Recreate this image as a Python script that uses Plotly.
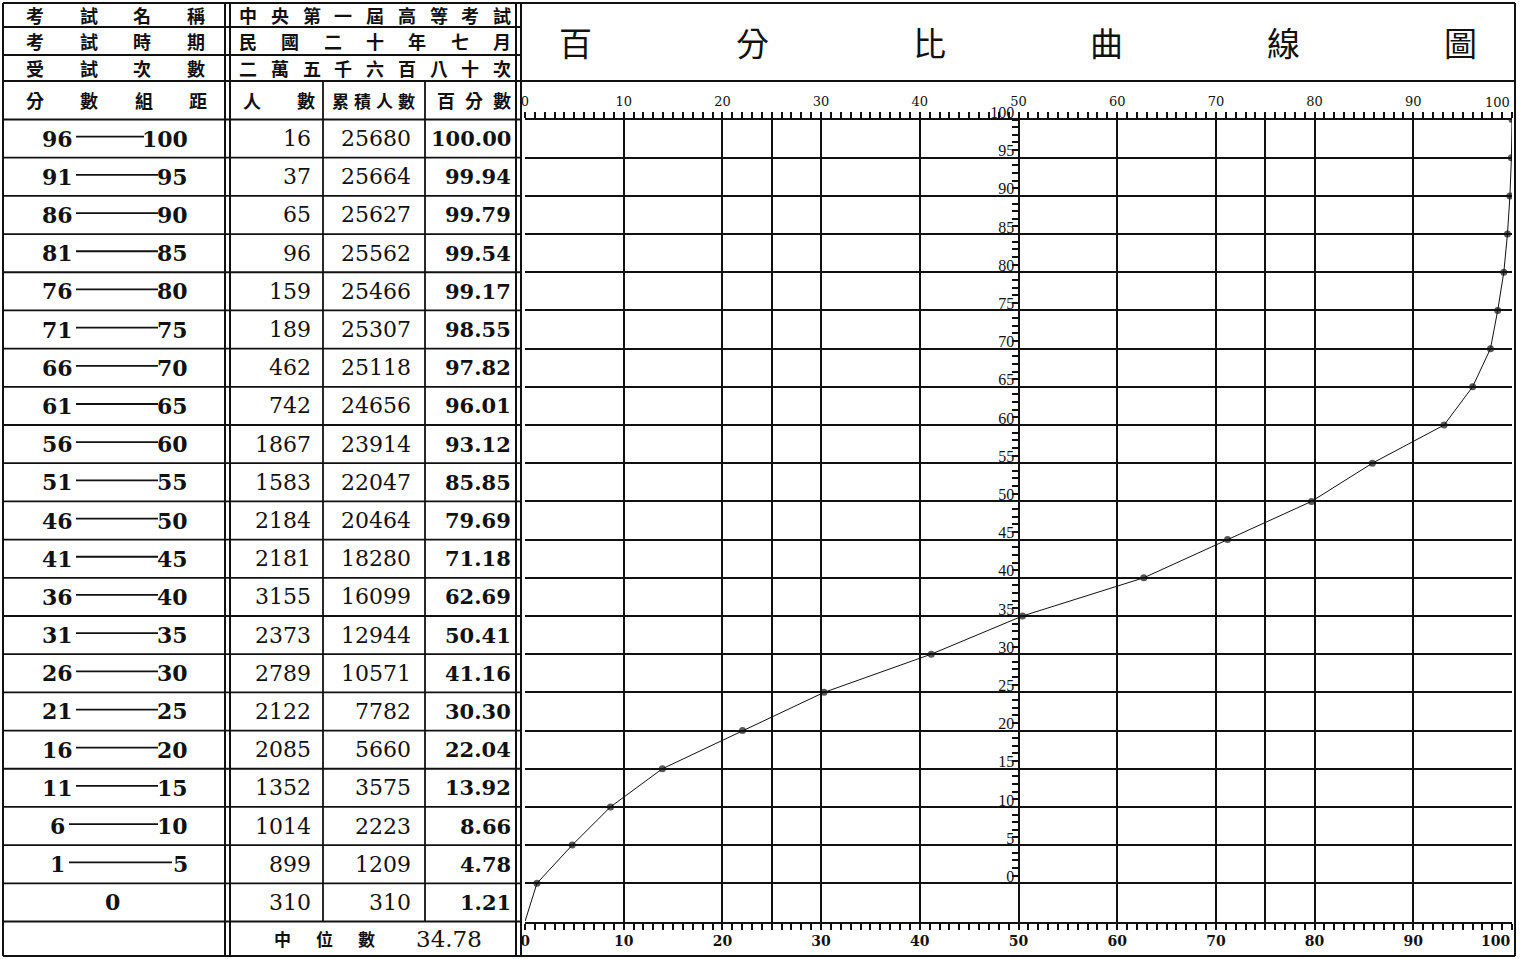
import plotly.graph_objects as go

# ------------------------------------------------------------------ data
TITLE = "百分比曲線圖"
INFO_LABELS = ["考試名稱", "考試時期", "受試次數"]
INFO_VALUES = ["中央第一屆高等考試", "民國二十年七月", "二萬五千六百八十次"]
COL_HEADERS = ["分數組距", "人數", "累積人數", "百分數"]

CLASS_LOW = [96, 91, 86, 81, 76, 71, 66, 61, 56, 51, 46, 41, 36, 31, 26, 21, 16, 11, 6, 1, 0]
CLASS_HIGH = [100, 95, 90, 85, 80, 75, 70, 65, 60, 55, 50, 45, 40, 35, 30, 25, 20, 15, 10, 5, 0]
FREQ = [16, 37, 65, 96, 159, 189, 462, 742, 1867, 1583, 2184, 2181, 3155, 2373, 2789,
        2122, 2085, 1352, 1014, 899, 310]
CUM = [25680, 25664, 25627, 25562, 25466, 25307, 25118, 24656, 23914, 22047, 20464,
       18280, 16099, 12944, 10571, 7782, 5660, 3575, 2223, 1209, 310]
PCT = [100.00, 99.94, 99.79, 99.54, 99.17, 98.55, 97.82, 96.01, 93.12, 85.85, 79.69,
       71.18, 62.69, 50.41, 41.16, 30.30, 22.04, 13.92, 8.66, 4.78, 1.21]
CURVE_ORIGIN_PCT = [0.0]
CURVE_ORIGIN_SCORE = [-5]

MEDIAN_LABEL = "中位數"
MEDIAN = 34.78

X_LABEL_TICKS = [0, 10, 20, 30, 40, 50, 60, 70, 80, 90, 100]
X_EXTRA_GRID = [25, 75]
Y_TICKS = list(range(0, 101, 5))

# ------------------------------------------------------------------ layout helpers
W, H = 1520, 959


def px(x):
    return x / W


def py(y):
    return 1 - y / H


CX0, CX1 = 525, 1512          # pixel positions of 0 % and 100 %
CY_TOP, CY_BOT = 119.5, 921.5  # pixel positions of score 100 and score -5
YMIN, YMAX = -5, 100
XDOM = [px(CX0), px(CX1)]
YDOM = [py(CY_BOT), py(CY_TOP)]


def sy(score):
    return YDOM[0] + (score - YMIN) / (YMAX - YMIN) * (YDOM[1] - YDOM[0])


CJK = "Noto Sans CJK TC"
SERIF = "DejaVu Serif"
BLACK = "#111111"

shapes = []
annotations = []


def hline(y0, xa, xb, w=1.8):
    shapes.append(dict(type="line", xref="paper", yref="paper", x0=px(xa), x1=px(xb),
                       y0=y0, y1=y0, line=dict(color=BLACK, width=w)))


def vline(x, ya, yb, w=1.8):
    shapes.append(dict(type="line", xref="paper", yref="paper", x0=px(x), x1=px(x),
                       y0=ya, y1=yb, line=dict(color=BLACK, width=w)))


def text(x, y, s, size, font=SERIF, anchor="center", bold=False, xref="paper"):
    annotations.append(dict(xref=xref, yref="paper", x=x, y=y, text=(f"<b>{s}</b>" if bold else s),
                            showarrow=False, xanchor=anchor, yanchor="middle",
                            font=dict(family=font, size=size, color=BLACK)))


def spread(s, xa, xb, y, size, bold=True):
    n = len(s)
    for i, ch in enumerate(s):
        x = xa if n == 1 else xa + i * (xb - xa) / (n - 1)
        text(px(x), y, ch, size, CJK, "center", bold)


# ------------------------------------------------------------------ table frame
T_L, C1A, C1B, C2R, C3R, TRA, TRB, R_EDGE = 3, 225, 230, 323, 425, 516, 521, 1515
HEAD_Y = [3, 27, 55, 81]
TBL_BOTTOM = 956

for yy in HEAD_Y:
    hline(py(yy), T_L, TRB if yy in (27, 55) else R_EDGE, 2)
hline(py(TBL_BOTTOM), T_L, R_EDGE, 2)
row_bounds = CLASS_HIGH + [CLASS_HIGH[-1] - 5]
for b in row_bounds:
    hline(sy(b), T_L, TRB, 1.8)

for x in (T_L, C1A, C1B, TRA, TRB):
    vline(x, py(HEAD_Y[0]), py(TBL_BOTTOM), 2)
vline(R_EDGE, py(HEAD_Y[0]), py(TBL_BOTTOM), 2)
for x in (C2R, C3R):
    vline(x, py(HEAD_Y[3]), sy(row_bounds[-1]), 1.8)

# ------------------------------------------------------------------ header text
head_centres = [(HEAD_Y[i] + HEAD_Y[i + 1]) / 2 for i in range(3)]
for lab, val, yc in zip(INFO_LABELS, INFO_VALUES, head_centres):
    spread(lab, 35, 196, py(yc), 18)
    spread(val, 248, 502, py(yc), 18)
yc4 = py((HEAD_Y[3] + CY_TOP) / 2)
spread(COL_HEADERS[0], 35, 198, yc4, 18)
spread(COL_HEADERS[1], 252, 306, yc4, 18)
spread(COL_HEADERS[2], 340, 406, yc4, 17)
spread(COL_HEADERS[3], 446, 502, yc4, 18)

spread(TITLE, 575, 1460, py((HEAD_Y[0] + HEAD_Y[3]) / 2), 33, bold=False)

# ------------------------------------------------------------------ table body
DIGIT_W = 14
for lo, hi, f, c, p in zip(CLASS_LOW, CLASS_HIGH, FREQ, CUM, PCT):
    yc = sy(hi - 2.5)
    if lo == hi:
        text(px(113), yc, str(lo), 22, bold=True)
    else:
        text(px(57), yc, str(lo), 22, bold=True)
        text(px(190), yc, str(hi), 22, anchor="right", bold=True)
        xa = 57 + len(str(lo)) * DIGIT_W / 2 + 5
        xb = 190 - len(str(hi)) * DIGIT_W - 4
        hline(yc + 0.002, xa, xb, 1.8)
    text(px(313), yc, str(f), 22, anchor="right")
    text(px(413), yc, str(c), 22, anchor="right")
    text(px(513), yc, f"{p:.2f}", 21, anchor="right", bold=True)

ymed = py((CY_BOT + TBL_BOTTOM) / 2)
spread(MEDIAN_LABEL, 282, 366, ymed, 17)
text(px(449), ymed, f"{MEDIAN:.2f}", 23)

# right-most x tick labels (kept inside the frame, as in the original)
x_last = X_LABEL_TICKS[-1]
text(x_last, py(CY_TOP - 17), str(x_last), 13, anchor="right", xref="x")
text(x_last, py(CY_BOT + 19), str(x_last), 14, anchor="right", bold=True, xref="x")

# ------------------------------------------------------------------ curve
curve_x = CURVE_ORIGIN_PCT + PCT[::-1]
curve_y = CURVE_ORIGIN_SCORE + CLASS_HIGH[::-1]
marker_sizes = [0] * len(CURVE_ORIGIN_PCT) + [7] * len(PCT)

fig = go.Figure()
fig.add_trace(go.Scatter(x=curve_x, y=curve_y, mode="lines+markers",
                         line=dict(color=BLACK, width=1),
                         marker=dict(color=BLACK, size=marker_sizes, line=dict(width=0)),
                         showlegend=False, hoverinfo="skip"))
fig.add_trace(go.Scatter(x=[None], y=[None], xaxis="x2", yaxis="y", showlegend=False))

grid_vals = sorted(X_LABEL_TICKS + X_EXTRA_GRID)
grid_text = [str(v) if (v in X_LABEL_TICKS and v != x_last) else "" for v in grid_vals]
minor_x = dict(tickmode="array", tickvals=list(range(0, 101)), ticks="outside",
               ticklen=6, tickwidth=1.5, tickcolor=BLACK, showgrid=False)

common_x = dict(range=[0, 100], domain=XDOM, tickmode="array", tickvals=grid_vals,
                ticks="outside", ticklen=6, tickwidth=1.5, automargin=False,
                tickcolor=BLACK, showline=True, linecolor=BLACK, linewidth=2,
                zeroline=False, fixedrange=True)

fig.update_layout(
    template="none",
    width=W, height=H,
    autosize=False,
    margin=dict(l=0, r=0, t=0, b=0, pad=0),
    paper_bgcolor="white", plot_bgcolor="white",
    showlegend=False,
    xaxis=dict(**common_x, side="bottom", anchor="y", showgrid=True, gridcolor=BLACK,
               gridwidth=1.6, minor=minor_x,
               ticktext=[f"<b>{t}</b>" if t else "" for t in grid_text],
               tickfont=dict(family=SERIF, size=14, color=BLACK)),
    xaxis2=dict(**common_x, side="top", anchor="y", overlaying="x", matches="x",
                showgrid=False, minor=minor_x, ticktext=grid_text,
                tickfont=dict(family=SERIF, size=13, color=BLACK)),
    yaxis=dict(range=[YMIN, YMAX], domain=YDOM, anchor="free", position=(XDOM[0] + XDOM[1]) / 2,
               side="left", tickmode="array", tickvals=Y_TICKS, automargin=False,
               ticktext=[str(v) for v in Y_TICKS], ticks="outside", ticklen=6,
               tickwidth=1.5, tickcolor=BLACK, showline=True, linecolor=BLACK, linewidth=2,
               showgrid=True, gridcolor=BLACK, gridwidth=1.6, zeroline=False,
               ticklabelstandoff=-6, ticklabelshift=-7,
               minor=dict(tickmode="array", tickvals=list(range(0, 101)), ticks="outside",
                          ticklen=6, tickwidth=1.5, tickcolor=BLACK, showgrid=False),
               tickfont=dict(family="Liberation Serif", size=16, color=BLACK),
               fixedrange=True),
    shapes=shapes,
    annotations=annotations,
)

fig.write_html(
    "out.html", config={"displayModeBar": False},
    post_script=("document.body.style.margin='0';document.body.style.overflow='hidden';"
                 "var d=document.getElementById('{plot_id}');d.style.position='absolute';"
                 "d.style.top='0px';d.style.left='0px';"))
